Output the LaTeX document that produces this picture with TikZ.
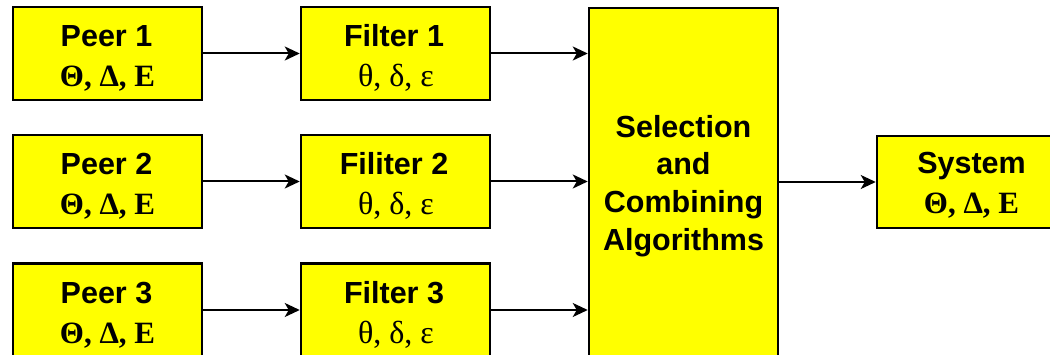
\documentclass[tikz,border=0pt]{standalone}
\usepackage{fontspec}
\setmainfont{Liberation Serif}
\newfontfamily\hv{Liberation Sans}
\newfontfamily\gk{Liberation Serif}
\usetikzlibrary{arrows.meta}
\definecolor{yel}{RGB}{255,255,0}
\tikzset{
  box/.style={draw=black, line width=2.5pt, fill=yel, minimum width=189pt, inner sep=0pt},
  ttl/.style={font=\hv\bfseries\fontsize{30.5}{37.7}\selectfont, anchor=base, inner sep=0pt},
  gk/.style={font=\gk\bfseries\fontsize{31}{40}\selectfont, anchor=base, inner sep=0pt},
  gks/.style={font=\gk\fontsize{32}{40}\selectfont, anchor=base, inner sep=0pt},
  arr/.style={line width=2pt, -{Stealth[length=15pt,width=14pt,inset=4pt]}}
}
\begin{document}
\begin{tikzpicture}[x=1pt,y=-1pt]
\useasboundingbox (0,0) rectangle (1050,355);
\clip (0,0) rectangle (1050,355);
% peers
\node[box, minimum height=93pt] (p1) at (107.5,53.5) {};
\node[ttl] (p1a) at (106.5,47) {Peer 1};
\node[gk] (p1b) at (107.5,87) {Θ, Δ, Ε};
\node[box, minimum height=93pt] (p2) at (107.5,181.5) {};
\node[ttl] (p2a) at (106.5,175) {Peer 2};
\node[gk] (p2b) at (107.5,215) {Θ, Δ, Ε};
\node[box, minimum height=93pt] (p3) at (107.5,310) {};
\node[ttl] (p3a) at (106.5,303.5) {Peer 3};
\node[gk] (p3b) at (107.5,343.5) {Θ, Δ, Ε};
% filters
\node[box, minimum height=93pt] (f1) at (395.5,53.5) {};
\node[ttl] (f1a) at (394,47) {Filter 1};
\node[gks] (f1b) at (396,87) {θ, δ, ε};
\node[box, minimum height=93pt] (f2) at (395.5,181.5) {};
\node[ttl] (f2a) at (394,175) {Filiter 2};
\node[gks] (f2b) at (396,215) {θ, δ, ε};
\node[box, minimum height=93pt] (f3) at (395.5,310) {};
\node[ttl] (f3a) at (394,303.5) {Filter 3};
\node[gks] (f3b) at (396,343.5) {θ, δ, ε};
% selection
\node[box, minimum height=348pt] (sel) at (683.5,182) {};
\node[ttl, anchor=north, align=center] (selt) at (683.5,115) {Selection\\and\\Combining\\Algorithms};
% system
\node[box, minimum height=92pt] (sys) at (971.5,182) {};
\node[ttl] (sysa) at (971.5,174) {System};
\node[gk] (sysb) at (971.5,214) {Θ, Δ, Ε};
% arrows
\draw[arr] (p1.east) -- (f1.west);
\draw[arr] (p2.east) -- (f2.west);
\draw[arr] (p3.east) -- (f3.west);
\draw[arr] (f1.east) -- (f1.east -| sel.west);
\draw[arr] (f2.east) -- (f2.east -| sel.west);
\draw[arr] (f3.east) -- (f3.east -| sel.west);
\draw[arr] (sel.east) -- (sys.west);
\end{tikzpicture}
\end{document}
